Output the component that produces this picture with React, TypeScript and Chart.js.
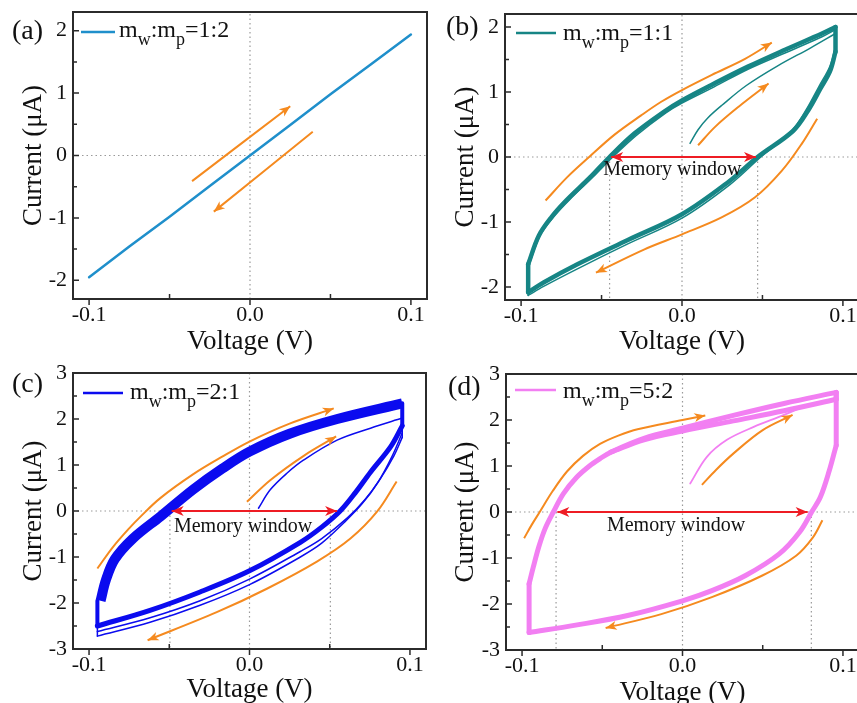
import React, { useEffect, useRef } from "react";
import { Chart, registerables } from "chart.js";

Chart.register(...registerables);

const SERIF = "'Liberation Serif', 'Times New Roman', Times, serif";
Chart.defaults.font.family = SERIF;

// ---------------- axes / labels ----------------
const voltageTicks = [-0.1, 0.0, 0.1];
const currentTicksAB = [-2, -1, 0, 1, 2];
const currentTicksCD = [-3, -2, -1, 0, 1, 2, 3];
const voltageLimits = [-0.11, 0.11];
const currentLimitsA = [-2.3, 2.3];
const currentLimitsB = [-2.2, 2.2];
const currentLimitsCD = [-3, 3];
const xTitle = "Voltage (V)";
const yTitle = "Current (μA)";
const panelLetters = ["(a)", "(b)", "(c)", "(d)"];
const massRatios = ["1:2", "1:1", "2:1", "5:2"];
const windowText = "Memory window";

// ---------------- panel (a) ----------------
const aVoltage = [-0.1, -0.075, -0.05, -0.025, 0.0, 0.025, 0.05, 0.075, 0.1];
const aCurrent = [-1.95, -1.46, -0.98, -0.49, 0.0, 0.49, 0.98, 1.46, 1.94];
const aArrow1V = [-0.036, 0.025];
const aArrow1I = [-0.41, 0.79];
const aArrow2V = [0.039, -0.0225];
const aArrow2I = [0.38, -0.9];

// ---------------- panel (b) ----------------
const bUpV = [-0.0956, -0.089, -0.081, -0.072, -0.057, -0.045, -0.0296, -0.011, 0, 0.02, 0.041, 0.064, 0.087, 0.0954];
const bUpI = [-1.65, -1.21, -0.92, -0.67, -0.31, 0, 0.36, 0.7, 0.87, 1.13, 1.39, 1.65, 1.9, 2.0];
const bDownV = [0.0954, 0.092, 0.086, 0.0785, 0.069, 0.047, 0.029, 0, -0.034, -0.065, -0.086, -0.0956];
const bDownI = [1.62, 1.32, 1.05, 0.72, 0.4, 0, -0.38, -0.88, -1.28, -1.65, -1.93, -2.08];
const bUp2V = [-0.0956, -0.088, -0.079, -0.07, -0.055, -0.043, -0.028, -0.01, 0, 0.02, 0.041, 0.064, 0.087, 0.0954];
const bUp2I = [-1.7, -1.2, -0.9, -0.66, -0.3, 0, 0.34, 0.68, 0.83, 1.08, 1.35, 1.6, 1.85, 1.96];
const bDown2V = [0.0954, 0.092, 0.085, 0.077, 0.068, 0.049, 0.03, 0, -0.034, -0.065, -0.086, -0.0956];
const bDown2I = [1.7, 1.4, 1.08, 0.72, 0.4, 0.0, -0.42, -0.94, -1.34, -1.72, -1.99, -2.13];
const bInitV = [0.005, 0.01, 0.016, 0.025, 0.04, 0.06, 0.08, 0.0954];
const bInitI = [0.21, 0.42, 0.6, 0.8, 1.1, 1.41, 1.68, 1.9];
const bArrow1V = [-0.0848, -0.0713, -0.0577, -0.0421, -0.0254, -0.0129, 0, 0.0183, 0.0392, 0.0558];
const bArrow1I = [-0.67, -0.31, 0, 0.34, 0.64, 0.85, 1.03, 1.26, 1.51, 1.76];
const bArrow2V = [0.01, 0.0204, 0.035, 0.0538];
const bArrow2I = [0.18, 0.46, 0.77, 1.13];
const bArrow3V = [0.084, 0.0746, 0.0621, 0.0454, 0.0246, 0, -0.0233, -0.0535];
const bArrow3I = [0.59, 0.21, -0.21, -0.62, -0.93, -1.19, -1.42, -1.78];
const bWindowEdges = [-0.045, 0.047];
const bWindowArrow = [-0.044, 0.046];
const bWindowLabelAt = [-0.006, -0.28];

// ---------------- panel (c) ----------------
const cUpV = [-0.0928, -0.0895, -0.084, -0.0727, -0.0556, -0.035, -0.017, 0, 0.025, 0.0547, 0.0952];
const cUpI = [-1.95, -1.5, -1.05, -0.6, -0.12, 0.47, 0.92, 1.29, 1.68, 2.0, 2.34];
const cDownV = [0.0952, 0.088, 0.0755, 0.066, 0.0565, 0.045, 0.0317, 0, -0.0308, -0.062, -0.0948];
const cDownI = [1.85, 1.4, 0.85, 0.4, 0.0, -0.35, -0.68, -1.3, -1.76, -2.16, -2.5];
const cInitV = [0.0056, 0.0129, 0.0233, 0.0338, 0.0546, 0.0754, 0.0952];
const cInitI = [0.06, 0.46, 0.82, 1.11, 1.54, 1.8, 2.02];
const cThin1V = [0.0952, 0.09, 0.0815, 0.072, 0.061, 0.045, 0.0317, 0, -0.0308, -0.062, -0.0948];
const cThin1I = [1.6, 1.2, 0.7, 0.25, -0.15, -0.6, -0.88, -1.48, -1.95, -2.32, -2.62];
const cThin2V = [0.0952, 0.089, 0.08, 0.07, 0.059, 0.045, 0.0317, 0, -0.0308, -0.062, -0.0948];
const cThin2I = [1.7, 1.2, 0.62, 0.15, -0.25, -0.7, -1.0, -1.6, -2.05, -2.42, -2.72];
const cArrow1V = [-0.0948, -0.085, -0.0756, -0.0673, -0.0556, -0.035, -0.017, 0, 0.025, 0.0525];
const cArrow1I = [-1.25, -0.78, -0.4, -0.1, 0.28, 0.8, 1.18, 1.51, 1.9, 2.23];
const cArrow2V = [-0.0016, 0.0129, 0.0338, 0.054];
const cArrow2I = [0.2, 0.67, 1.2, 1.62];
const cArrow3V = [0.0917, 0.0796, 0.0629, 0.042, 0.0108, -0.0204, -0.0635];
const cArrow3I = [0.64, -0.01, -0.6, -1.1, -1.69, -2.2, -2.81];
const cWindowEdges = [-0.0496, 0.0504];
const cWindowArrow = [-0.0485, 0.0546];
const cWindowLabelAt = [-0.004, -0.46];

// ---------------- panel (d) ----------------
const dUpV = [-0.0956, -0.093, -0.0895, -0.0855, -0.0805, -0.0742, -0.0658, -0.058, -0.0514, -0.0447, -0.024, 0, 0.0317, 0.0633, 0.0958];
const dUpI = [-1.56, -1.2, -0.75, -0.35, 0, 0.4, 0.76, 1.0, 1.16, 1.3, 1.6, 1.82, 2.1, 2.36, 2.6];
const dDownV = [0.0958, 0.0915, 0.086, 0.0805, 0.0729, 0.0603, 0.0393, 0.0183, 0, -0.0342, -0.0666, -0.0956];
const dDownI = [1.45, 0.9, 0.33, 0, -0.44, -0.91, -1.38, -1.71, -1.93, -2.25, -2.46, -2.62];
const dUp2V = [-0.0447, -0.024, 0, 0.0317, 0.0633, 0.0958];
const dUp2I = [1.3, 1.57, 1.76, 1.98, 2.2, 2.45];
const dInitV = [0.0048, 0.0152, 0.0277, 0.0444, 0.0633, 0.0777];
const dInitI = [0.62, 1.2, 1.57, 1.85, 2.11, 2.33];
const dArrow1V = [-0.0987, -0.094, -0.089, -0.081, -0.072, -0.062, -0.0514, -0.04, -0.028, 0, 0.0142];
const dArrow1I = [-0.57, -0.28, 0.0, 0.45, 0.88, 1.22, 1.48, 1.66, 1.8, 2.0, 2.1];
const dArrow2V = [0.0121, 0.021, 0.032, 0.05, 0.0686];
const dArrow2I = [0.59, 0.92, 1.28, 1.78, 2.11];
const dArrow3V = [0.0872, 0.0813, 0.0708, 0.0498, 0.0183, -0.0132, -0.0479];
const dArrow3I = [-0.18, -0.55, -0.95, -1.38, -1.85, -2.22, -2.52];
const dWindowEdges = [-0.0788, 0.0803];
const dWindowArrow = [-0.078, 0.078];
const dWindowLabelAt = [-0.004, -0.41];

// ---------------- styles ----------------
const C_A = "#1f8fcb";
const C_B = "#168585";
const C_C = "#0b0bef";
const C_D = "#f27ff2";
const C_ORANGE = "#f58a1f";
const C_RED = "#ee1c24";
const C_DOT = "#9a9a9a";
const C_FRAME = "#2b2b2b";
const C_TEXT = "#111111";
const SMOOTH = 0.35;

const P = (xs: number[], ys: number[]) => xs.map((x, i) => ({ x, y: ys[i] }));
const last = (a: number[]) => a[a.length - 1];

const curve = (data: any[], color: string, width: number, order: number, extra: any = {}) => ({
  data,
  borderColor: color,
  backgroundColor: color,
  borderWidth: width,
  pointRadius: 0,
  pointHoverRadius: 0,
  tension: 0,
  fill: false,
  order,
  borderJoinStyle: "round",
  borderCapStyle: "round",
  ...extra,
});

const branch = (xs: number[], ys: number[], color: string, width: number, order = 3, extra: any = {}) =>
  curve(P(xs, ys), color, width, order, { tension: SMOOTH, ...extra });

// straight segment joining the end of one branch to the start of another
const edge = (xa: number[], ya: number[], xb: number[], yb: number[], color: string, width: number, order = 3) =>
  curve(P([last(xa), xb[0]], [last(ya), yb[0]]), color, width, order);

const loop = (upV: number[], upI: number[], dnV: number[], dnI: number[], color: string, width: number, order = 3) => [
  branch(upV, upI, color, width, order),
  branch(dnV, dnI, color, width, order),
  edge(upV, upI, dnV, dnI, color, width, order),
  edge(dnV, dnI, upV, upI, color, width, order),
];

const orangeArrow = (xs: number[], ys: number[]) =>
  curve(P(xs, ys), C_ORANGE, 2, 1, { tension: SMOOTH, borderCapStyle: "butt", arrowHead: { end: true, len: 11, half: 4.5 } });

const redArrow = (span: number[]) =>
  curve(P(span, [0, 0]), C_RED, 2, 0, { borderCapStyle: "butt", arrowHead: { end: true, start: true, len: 12, half: 5 } });

const dotted = (xs: number[], ys: number[]) =>
  curve(P(xs, ys), C_DOT, 1.2, 9, { borderDash: [1.5, 3], borderCapStyle: "butt" });

const zeroLines = (lim: number[]) => [dotted([0, 0], lim), dotted(voltageLimits, [0, 0])];

const windowLines = (edges: number[], lim: number[]) => [
  dotted([edges[0], edges[0]], [0, lim[0]]),
  dotted([edges[1], edges[1]], [0, lim[0]]),
];

// ---------------- decoration plugin ----------------
const decorPlugin = {
  id: "decor",
  afterDatasetsDraw(chart: any, _args: any, o: any) {
    const ctx = chart.ctx;
    const ca = chart.chartArea;
    const sx = chart.scales.x;
    const sy = chart.scales.y;
    ctx.save();

    chart.data.datasets.forEach((ds: any, i: number) => {
      if (!ds.arrowHead) return;
      const pts = chart.getDatasetMeta(i).data;
      const n = pts.length;
      const head = (tip: any, prev: any) => {
        const a = Math.atan2(tip.y - prev.y, tip.x - prev.x);
        const L = ds.arrowHead.len;
        const W = ds.arrowHead.half;
        const c = Math.cos(a);
        const s = Math.sin(a);
        ctx.beginPath();
        ctx.moveTo(tip.x, tip.y);
        ctx.lineTo(tip.x - L * c - W * s, tip.y - L * s + W * c);
        ctx.lineTo(tip.x - 0.72 * L * c, tip.y - 0.72 * L * s);
        ctx.lineTo(tip.x - L * c + W * s, tip.y - L * s - W * c);
        ctx.closePath();
        ctx.fillStyle = ds.borderColor;
        ctx.fill();
      };
      if (ds.arrowHead.end) head(pts[n - 1], pts[n - 2]);
      if (ds.arrowHead.start) head(pts[0], pts[1]);
    });

    if (o.windowAt) {
      ctx.font = `20px ${SERIF}`;
      ctx.fillStyle = C_TEXT;
      ctx.textAlign = "center";
      ctx.textBaseline = "alphabetic";
      ctx.fillText(windowText, sx.getPixelForValue(o.windowAt[0]), sy.getPixelForValue(o.windowAt[1]));
    }

    ctx.strokeStyle = C_FRAME;
    ctx.lineWidth = 2;
    ctx.strokeRect(ca.left, ca.top, ca.right - ca.left, ca.bottom - ca.top);

    ctx.lineWidth = 1.5;
    ctx.beginPath();
    const yt = sy.ticks.map((t: any) => t.value);
    yt.forEach((v: number, i: number) => {
      const y = sy.getPixelForValue(v);
      ctx.moveTo(ca.left, y);
      ctx.lineTo(ca.left + 6, y);
      if (i < yt.length - 1) {
        const ym = sy.getPixelForValue((v + yt[i + 1]) / 2);
        ctx.moveTo(ca.left, ym);
        ctx.lineTo(ca.left + 4, ym);
      }
    });
    const xt = sx.ticks.map((t: any) => t.value);
    xt.forEach((v: number, i: number) => {
      const x = sx.getPixelForValue(v);
      ctx.moveTo(x, ca.bottom);
      ctx.lineTo(x, ca.bottom + 6);
      if (i < xt.length - 1) {
        const xm = sx.getPixelForValue((v + xt[i + 1]) / 2);
        ctx.moveTo(xm, ca.bottom);
        ctx.lineTo(xm, ca.bottom - 5);
      }
    });
    ctx.stroke();

    const lg = o.legend;
    ctx.strokeStyle = o.color;
    ctx.lineWidth = 2.5;
    ctx.beginPath();
    ctx.moveTo(lg.x0, lg.ly);
    ctx.lineTo(lg.x1, lg.ly);
    ctx.stroke();
    const parts: [string, boolean][] = [["m", false], ["w", true], [":m", false], ["p", true], ["=" + o.ratio, false]];
    let tx = lg.tx;
    ctx.fillStyle = C_TEXT;
    ctx.textAlign = "left";
    ctx.textBaseline = "alphabetic";
    parts.forEach(([t, sub]) => {
      ctx.font = sub ? `18px ${SERIF}` : `24px ${SERIF}`;
      ctx.fillText(t, tx, lg.by + (sub ? 8 : 0));
      tx += ctx.measureText(t).width;
    });

    ctx.font = `28px ${SERIF}`;
    ctx.textBaseline = "middle";
    ctx.textAlign = "left";
    ctx.fillText(o.letter, o.letterAt[0], o.letterAt[1]);

    ctx.restore();
  },
};

// ---------------- panels ----------------
const panels = [
  {
    left: 0, top: 0, w: 428, h: 355, padTop: 12, padRight: 1, yAxisW: 73, xAxisH: 56,
    yLim: currentLimitsA, yTicks: currentTicksAB, yTitlePad: 20, xTitlePad: 0,
    color: C_A, ratio: massRatios[0], letter: panelLetters[0], letterAt: [12, 32],
    legend: { x0: 81, x1: 115, ly: 32, tx: 119, by: 37 },
    windowAt: null,
    datasets: [
      ...zeroLines(currentLimitsA),
      curve(P(aVoltage, aCurrent), C_A, 2.5, 3),
      orangeArrow(aArrow1V, aArrow1I),
      orangeArrow(aArrow2V, aArrow2I),
    ],
  },
  {
    left: 428, top: 0, w: 440, h: 355, padTop: 14, padRight: 9, yAxisW: 77, xAxisH: 55,
    yLim: currentLimitsB, yTicks: currentTicksAB, yTitlePad: 24, xTitlePad: 0,
    color: C_B, ratio: massRatios[1], letter: panelLetters[1], letterAt: [18, 28],
    legend: { x0: 88, x1: 128, ly: 33, tx: 135, by: 40 },
    windowAt: bWindowLabelAt,
    datasets: [
      ...zeroLines(currentLimitsB),
      ...windowLines(bWindowEdges, currentLimitsB),
      ...loop(bUpV, bUpI, bDownV, bDownI, C_B, 4.5),
      ...loop(bUp2V, bUp2I, bDown2V, bDown2I, C_B, 1.5, 2),
      branch(bInitV, bInitI, C_B, 1.5, 2),
      orangeArrow(bArrow1V, bArrow1I),
      orangeArrow(bArrow2V, bArrow2I),
      orangeArrow(bArrow3V, bArrow3I),
      redArrow(bWindowArrow),
    ],
  },
  {
    left: 0, top: 355, w: 428, h: 358, padTop: 18, padRight: 2, yAxisW: 73, xAxisH: 64,
    yLim: currentLimitsCD, yTicks: currentTicksCD, yTitlePad: 20, xTitlePad: 10,
    color: C_C, ratio: massRatios[2], letter: panelLetters[2], letterAt: [12, 30],
    legend: { x0: 83, x1: 123, ly: 38, tx: 130, by: 44 },
    windowAt: cWindowLabelAt,
    datasets: [
      ...zeroLines(currentLimitsCD),
      ...windowLines(cWindowEdges, currentLimitsCD),
      branch(cUpV, cUpI, C_C, 10, 3, { borderCapStyle: "butt" }),
      branch(cDownV, cDownI, C_C, 5),
      curve(P([last(cUpV), cDownV[0]], [last(cUpI), cDownI[0]]), C_C, 4, 3),
      curve(P([last(cDownV), last(cDownV)], [last(cDownI), cUpI[0]]), C_C, 4, 3),
      branch(cInitV, cInitI, C_C, 1.5, 2),
      edge(cInitV, cInitI, cThin1V, cThin1I, C_C, 1.5, 2),
      branch(cThin1V, cThin1I, C_C, 1.5, 2),
      branch(cThin2V, cThin2I, C_C, 1.5, 2),
      curve(P([last(cThin2V), last(cThin2V)], [last(cThin2I), cUpI[0]]), C_C, 1.5, 2),
      orangeArrow(cArrow1V, cArrow1I),
      orangeArrow(cArrow2V, cArrow2I),
      orangeArrow(cArrow3V, cArrow3I),
      redArrow(cWindowArrow),
    ],
  },
  {
    left: 428, top: 355, w: 440, h: 358, padTop: 19, padRight: 9, yAxisW: 78, xAxisH: 63,
    yLim: currentLimitsCD, yTicks: currentTicksCD, yTitlePad: 24, xTitlePad: 7,
    color: C_D, ratio: massRatios[3], letter: panelLetters[3], letterAt: [20, 33],
    legend: { x0: 87, x1: 128, ly: 35, tx: 135, by: 43 },
    windowAt: dWindowLabelAt,
    datasets: [
      ...zeroLines(currentLimitsCD),
      ...windowLines(dWindowEdges, currentLimitsCD),
      ...loop(dUpV, dUpI, dDownV, dDownI, C_D, 5),
      branch(dUp2V, dUp2I, C_D, 5),
      curve(P([last(dUp2V), last(dUpV)], [last(dUp2I), last(dUpI)]), C_D, 5, 3),
      branch(dInitV, dInitI, C_D, 1.8, 2),
      orangeArrow(dArrow1V, dArrow1I),
      orangeArrow(dArrow2V, dArrow2I),
      orangeArrow(dArrow3V, dArrow3I),
      redArrow(dWindowArrow),
    ],
  },
];

function buildConfig(p: any): any {
  return {
    type: "line",
    data: { datasets: p.datasets },
    plugins: [decorPlugin],
    options: {
      responsive: false,
      maintainAspectRatio: false,
      animation: false,
      events: [],
      layout: { padding: { top: p.padTop, right: p.padRight, left: 0, bottom: 0 } },
      plugins: {
        legend: { display: false },
        tooltip: { enabled: false },
        decor: {
          color: p.color,
          ratio: p.ratio,
          letter: p.letter,
          letterAt: p.letterAt,
          legend: p.legend,
          windowAt: p.windowAt,
        },
      },
      scales: {
        x: {
          type: "linear",
          min: voltageLimits[0],
          max: voltageLimits[1],
          afterBuildTicks: (s: any) => {
            s.ticks = voltageTicks.map((v) => ({ value: v }));
          },
          afterFit: (s: any) => {
            s.height = p.xAxisH;
          },
          grid: { display: false, drawTicks: false },
          border: { display: false },
          ticks: {
            autoSkip: false,
            maxRotation: 0,
            padding: 3,
            color: C_TEXT,
            font: { family: SERIF, size: 22 },
            callback: (v: any) => Number(v).toFixed(1),
          },
          title: {
            display: true,
            text: xTitle,
            color: C_TEXT,
            font: { family: SERIF, size: 27, lineHeight: 1 },
            padding: { top: 0, bottom: p.xTitlePad },
          },
        },
        y: {
          type: "linear",
          min: p.yLim[0],
          max: p.yLim[1],
          afterBuildTicks: (s: any) => {
            s.ticks = p.yTicks.map((v: number) => ({ value: v }));
          },
          afterFit: (s: any) => {
            s.width = p.yAxisW;
          },
          grid: { display: false, drawTicks: false },
          border: { display: false },
          ticks: {
            padding: 6,
            color: C_TEXT,
            font: { family: SERIF, size: 22, lineHeight: 0.5 },
            callback: (v: any) => String(v),
          },
          title: {
            display: true,
            text: yTitle,
            color: C_TEXT,
            font: { family: SERIF, size: 27, lineHeight: 1 },
            padding: { top: p.yTitlePad, bottom: 0 },
          },
        },
      },
    },
  };
}

function Panel({ p }: { p: any }) {
  const ref = useRef<HTMLCanvasElement | null>(null);
  useEffect(() => {
    if (!ref.current) return;
    const chart = new Chart(ref.current, buildConfig(p));
    return () => chart.destroy();
  }, [p]);
  return (
    <canvas
      ref={ref}
      width={p.w}
      height={p.h}
      style={{ position: "absolute", left: p.left, top: p.top, width: p.w, height: p.h }}
    />
  );
}

export default function App() {
  return (
    <div
      style={{
        position: "fixed",
        left: 0,
        top: 0,
        width: 857,
        height: 703,
        overflow: "hidden",
        background: "#ffffff",
      }}
    >
      {panels.map((p, i) => (
        <Panel key={i} p={p} />
      ))}
    </div>
  );
}
